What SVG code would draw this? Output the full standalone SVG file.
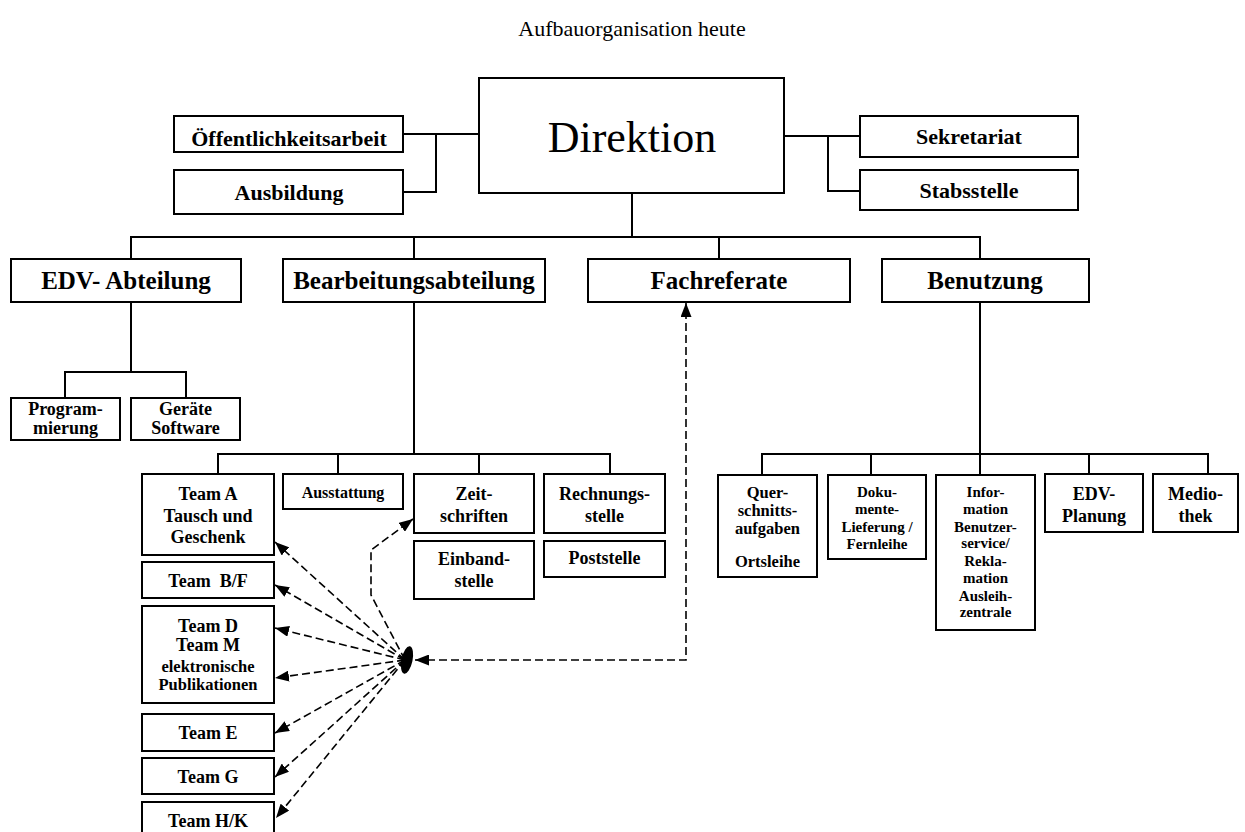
<svg xmlns="http://www.w3.org/2000/svg" width="1245" height="832" viewBox="0 0 1245 832">
<style>
.box{fill:#fff;stroke:#000;stroke-width:2}
.ln{fill:none;stroke:#000;stroke-width:2}
.dash{fill:none;stroke:#000;stroke-width:1.6;stroke-dasharray:8 4}
text{font-family:"Liberation Serif","Times New Roman",serif;text-anchor:middle;fill:#000}
.b{font-weight:bold}
.f24{font-size:25px}.f21{font-size:22px}.f18{font-size:18px}.f17{font-size:16.5px}.f16{font-size:16px}.f15{font-size:15px}
</style>
<defs>
<marker id="ah" viewBox="0 0 14 11" refX="14" refY="5.5" markerWidth="14" markerHeight="11" markerUnits="userSpaceOnUse" orient="auto-start-reverse"><path d="M0,0 L14,5.5 L0,11 z" fill="#000"/></marker>
</defs>
<rect width="1245" height="832" fill="#fff"/>
<text id="title" x="632" y="36" style="font-size:22px">Aufbauorganisation heute</text>

<g id="connectors">
<path class="ln" d="M403 134 H479 M436 134 V192 H403"/>
<path class="ln" d="M784 136 H860 M828 136 V191 H860"/>
<path class="ln" d="M632 193 V237 M131 259 V237 H980 V259 M414 237 V259 M719 237 V259"/>
<path class="ln" d="M131 302 V372 M65 398 V372 H186 V398"/>
<path class="ln" d="M414 302 V454 M218 474 V454 H610 V474 M338 454 V474 M479 454 V474"/>
<path class="ln" d="M980 302 V475 M762 475 V454 H1208 V474 M871 454 V475 M1089 454 V474"/>
<path class="dash" d="M415 660 H686 V303" marker-start="url(#ah)" marker-end="url(#ah)"/>
<path class="dash" d="M405 660 L371 595 V550 L413 519" marker-end="url(#ah)"/>
<path class="dash" d="M405 660 L275 542" marker-end="url(#ah)"/>
<path class="dash" d="M405 660 L275 585" marker-end="url(#ah)"/>
<path class="dash" d="M405 660 L275 628" marker-end="url(#ah)"/>
<path class="dash" d="M405 660 L275 678" marker-end="url(#ah)"/>
<path class="dash" d="M405 660 L275 733" marker-end="url(#ah)"/>
<path class="dash" d="M405 660 L275 777" marker-end="url(#ah)"/>
<path class="dash" d="M405 660 L276 818" marker-end="url(#ah)"/>
<ellipse cx="407" cy="660" rx="5.5" ry="14" transform="rotate(12 407 660)" fill="#000"/>
</g>

<g id="direktion"><rect class="box" x="479" y="78" width="305" height="115"/><text x="632" y="152" style="font-size:44px">Direktion</text></g>
<g id="oeffentlichkeitsarbeit"><rect class="box" x="174" y="116" width="229" height="36"/><text class="b f21" x="289" y="146">Öffentlichkeitsarbeit</text></g>
<g id="ausbildung"><rect class="box" x="174" y="170" width="229" height="44"/><text class="b f21" x="289" y="200">Ausbildung</text></g>
<g id="sekretariat"><rect class="box" x="860" y="116" width="218" height="41"/><text class="b f21" x="969" y="144">Sekretariat</text></g>
<g id="stabsstelle"><rect class="box" x="860" y="170" width="218" height="40"/><text class="b f21" x="969" y="198">Stabsstelle</text></g>

<g id="edv"><rect class="box" x="11" y="259" width="230" height="43"/><text class="b f24" x="126" y="289">EDV- Abteilung</text></g>
<g id="bearbeitung"><rect class="box" x="283" y="259" width="262" height="43"/><text class="b f24" x="414" y="289">Bearbeitungsabteilung</text></g>
<g id="fachreferate"><rect class="box" x="588" y="259" width="262" height="43"/><text class="b f24" x="719" y="289">Fachreferate</text></g>
<g id="benutzung"><rect class="box" x="882" y="259" width="207" height="43"/><text class="b f24" x="985" y="289">Benutzung</text></g>

<g id="programmierung"><rect class="box" x="11" y="398" width="109" height="42"/><text class="b f18" x="65.5" y="415">Program-</text><text class="b f18" x="65.5" y="434">mierung</text></g>
<g id="geraete"><rect class="box" x="131" y="398" width="109" height="42"/><text class="b f18" x="185.5" y="415">Geräte</text><text class="b f18" x="185.5" y="434">Software</text></g>

<g id="team-a"><rect class="box" x="142" y="474" width="132" height="81"/><text class="b f18" x="208" y="500">Team A</text><text class="b f18" x="208" y="522">Tausch und</text><text class="b f18" x="208" y="543">Geschenk</text></g>
<g id="team-bf"><rect class="box" x="142" y="562" width="132" height="36"/><text class="b f18" x="208" y="587" xml:space="preserve">Team  B/F</text></g>
<g id="team-dm"><rect class="box" x="142" y="606" width="132" height="97"/><text class="b f18" x="208" y="632">Team D</text><text class="b f18" x="208" y="651">Team M</text><text class="b f17" x="208" y="672">elektronische</text><text class="b f17" x="208" y="690">Publikationen</text></g>
<g id="team-e"><rect class="box" x="142" y="714" width="132" height="37"/><text class="b f18" x="208" y="739">Team E</text></g>
<g id="team-g"><rect class="box" x="142" y="758" width="132" height="36"/><text class="b f18" x="208" y="783">Team G</text></g>
<g id="team-hk"><rect class="box" x="142" y="802" width="132" height="36"/><text class="b f18" x="208" y="827">Team H/K</text></g>

<g id="ausstattung"><rect class="box" x="283" y="474" width="120" height="35"/><text class="b f16" x="343" y="498">Ausstattung</text></g>
<g id="zeitschriften"><rect class="box" x="414" y="474" width="120" height="59"/><text class="b f18" x="474" y="500">Zeit-</text><text class="b f18" x="474" y="522">schriften</text></g>
<g id="rechnungsstelle"><rect class="box" x="544" y="474" width="121" height="59"/><text class="b f18" x="604.5" y="500">Rechnungs-</text><text class="b f18" x="604.5" y="522">stelle</text></g>
<g id="einbandstelle"><rect class="box" x="414" y="541" width="120" height="58"/><text class="b f18" x="474" y="565">Einband-</text><text class="b f18" x="474" y="587">stelle</text></g>
<g id="poststelle"><rect class="box" x="544" y="541" width="121" height="36"/><text class="b f18" x="604.5" y="564">Poststelle</text></g>

<g id="querschnitt"><rect class="box" x="718" y="475" width="99" height="102"/><text class="b f17" x="767.5" y="498">Quer-</text><text class="b f17" x="767.5" y="516">schnitts-</text><text class="b f17" x="767.5" y="534">aufgaben</text><text class="b f17" x="767.5" y="567">Ortsleihe</text></g>
<g id="dokumente"><rect class="box" x="828" y="475" width="98" height="84"/><text class="b f15" x="877" y="497">Doku-</text><text class="b f15" x="877" y="514">mente-</text><text class="b f15" x="877" y="532">Lieferung /</text><text class="b f15" x="877" y="549">Fernleihe</text></g>
<g id="information"><rect class="box" x="936" y="475" width="99" height="155"/><text class="b f15" x="985.5" y="497">Infor-</text><text class="b f15" x="985.5" y="514">mation</text><text class="b f15" x="985.5" y="532">Benutzer-</text><text class="b f15" x="985.5" y="548">service/</text><text class="b f15" x="985.5" y="566">Rekla-</text><text class="b f15" x="985.5" y="583">mation</text><text class="b f15" x="985.5" y="601">Ausleih-</text><text class="b f15" x="985.5" y="617">zentrale</text></g>
<g id="edv-planung"><rect class="box" x="1045" y="474" width="98" height="58"/><text class="b f18" x="1094" y="500">EDV-</text><text class="b f18" x="1094" y="522">Planung</text></g>
<g id="mediothek"><rect class="box" x="1153" y="474" width="85" height="58"/><text class="b f18" x="1195.5" y="500">Medio-</text><text class="b f18" x="1195.5" y="522">thek</text></g>
</svg>
